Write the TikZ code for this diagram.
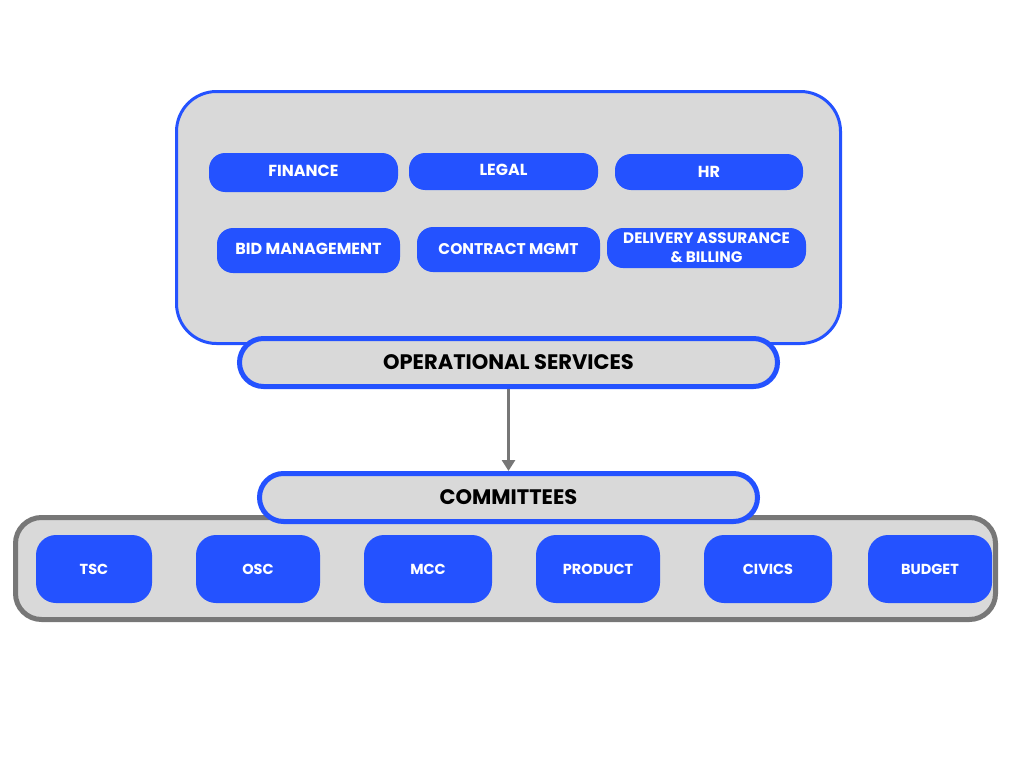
\documentclass[tikz,border=0pt]{standalone}
\usepackage{fontspec}
\setmainfont{Poppins}
\usetikzlibrary{arrows.meta}
\definecolor{brandblue}{HTML}{2452FF}
\definecolor{panelgray}{HTML}{D9D9D9}
\definecolor{edgegray}{HTML}{777777}
\newcommand{\liftlabel}[1]{\raisebox{2.5pt}{#1}}
\begin{document}
\begin{tikzpicture}[x=1pt,y=-1pt,
  panel/.style={draw=brandblue,line width=3pt,fill=panelgray,rounded corners=40pt,inner sep=0pt},
  tray/.style={draw=edgegray,line width=5pt,fill=panelgray,rounded corners=26pt,inner sep=0pt},
  banner/.style={draw=brandblue,line width=5pt,fill=panelgray,rounded corners=24pt,inner sep=0pt,
    font=\bfseries\fontsize{21}{23}\selectfont,text=black},
  unit/.style={fill=brandblue,rounded corners=16pt,inner sep=0pt,align=center,
    font=\bfseries\fontsize{16}{19}\selectfont,text=white},
  committee/.style={fill=brandblue,rounded corners=20pt,inner sep=0pt,minimum height=68pt,
    font=\bfseries\fontsize{14.5}{16}\selectfont,text=white},
  link/.style={draw=edgegray,line width=3pt,-{Triangle[length=11pt,width=13pt]}}]
\useasboundingbox (0,0) rectangle (1024,768);

% operational services panel
\node[panel,minimum width=664pt,minimum height=252pt] (ops) at (508.5,217.5) {};
\node[unit,minimum width=189pt,minimum height=39pt] (finance) at (303.5,172.5) {\liftlabel{FINANCE}};
\node[unit,minimum width=189pt,minimum height=37pt] (legal) at (503.5,171.5) {\liftlabel{LEGAL}};
\node[unit,minimum width=188pt,minimum height=36pt] (hr) at (709,172) {HR};
\node[unit,minimum width=183pt,minimum height=45pt] (bid) at (308.5,250.5) {\liftlabel{BID MANAGEMENT}};
\node[unit,minimum width=183pt,minimum height=45pt,font=\bfseries\fontsize{15.5}{18}\selectfont] (contract) at (508.5,249.5) {CONTRACT MGMT};
\node[unit,minimum width=199pt,minimum height=40pt,font=\bfseries\fontsize{15.2}{19}\selectfont] (delivery) at (706.5,248) {DELIVERY ASSURANCE\\\& BILLING};
\node[banner,minimum width=538pt,minimum height=48pt] (opsbanner) at (508.5,362.5) {OPERATIONAL SERVICES};

% committees tray
\node[tray,minimum width=980pt,minimum height=102pt] (tray) at (505.5,568.5) {};
\node[banner,minimum width=498pt,minimum height=48pt] (committees) at (508.5,497.5) {COMMITTEES};
\node[committee,minimum width=116pt] (tsc) at (94,569) {TSC};
\node[committee,minimum width=124pt] (osc) at (258,569) {OSC};
\node[committee,minimum width=128pt] (mcc) at (428,569) {MCC};
\node[committee,minimum width=124pt] (product) at (598,569) {PRODUCT};
\node[committee,minimum width=128pt] (civics) at (768,569) {CIVICS};
\node[committee,minimum width=124pt] (budget) at (930,569) {BUDGET};

% reporting line
\draw[link] (opsbanner.south) -- (committees.north);
\end{tikzpicture}
\end{document}
